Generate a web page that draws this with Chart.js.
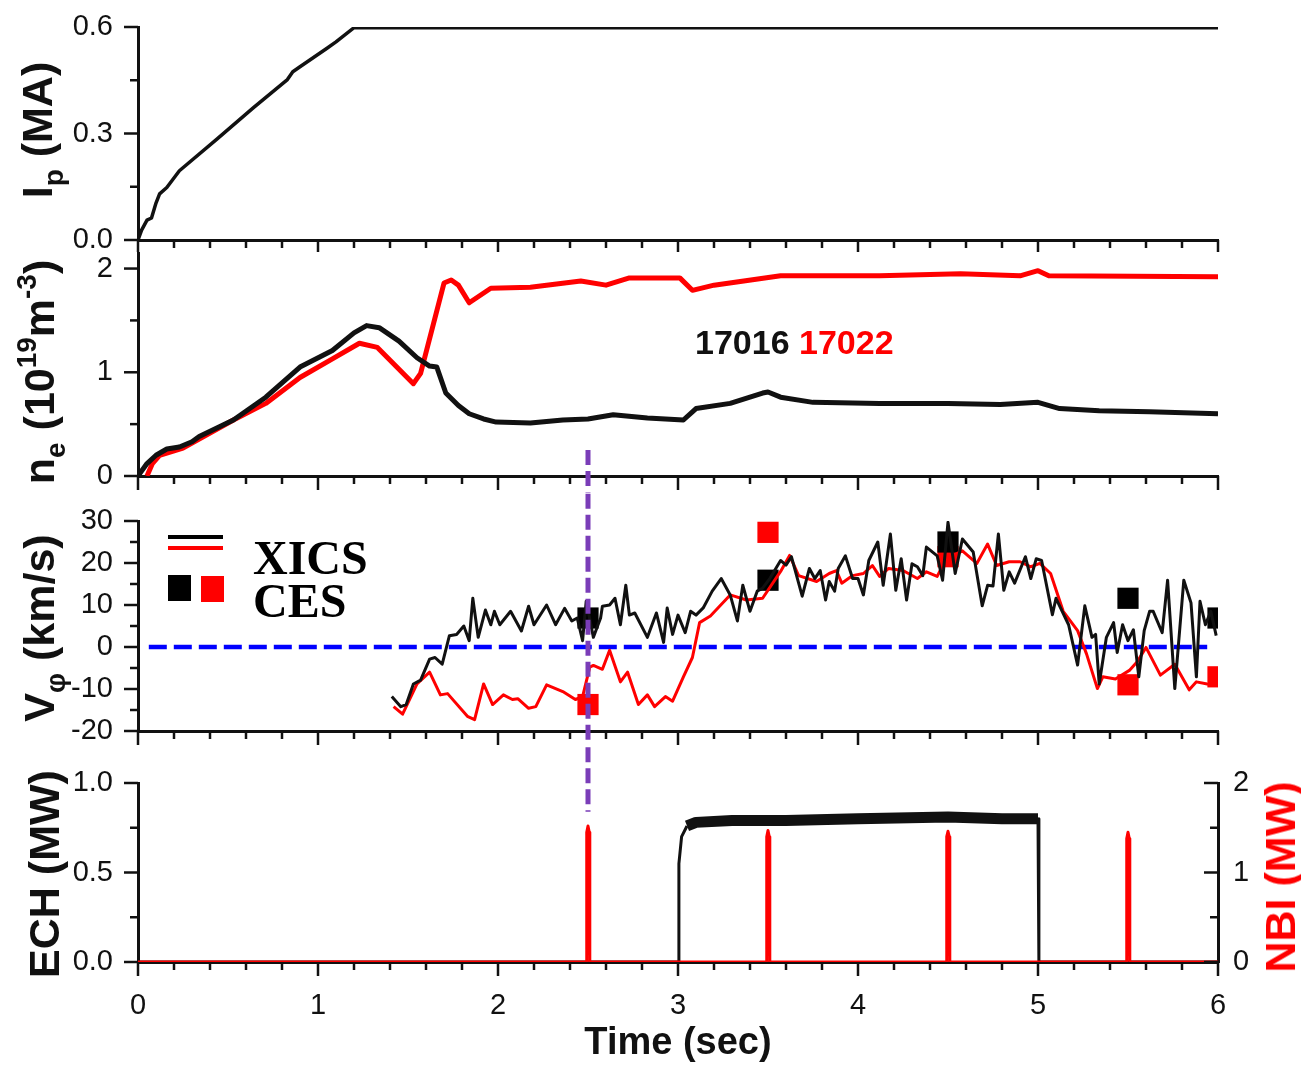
<!DOCTYPE html>
<html>
<head>
<meta charset="utf-8">
<script src="https://cdn.jsdelivr.net/npm/chart.js@4"></script>
<style>
  body { margin: 0; background: #fff; }
  #wrap { position: relative; width: 1301px; height: 1066px; background: #fff; overflow: hidden; }
  canvas { position: absolute; left: 0; }
  .ytitle { position: absolute; transform-origin: 0 0; transform: rotate(-90deg) translateX(-50%);
            white-space: nowrap; line-height: 1; font: bold 43px 'Liberation Sans', Arial, sans-serif; color: #111; }
  .sub { font-size: 0.65em; position: relative; top: 0.4em; }
  .sup { font-size: 0.65em; position: relative; top: -0.65em; }
  .txt { position: absolute; white-space: nowrap; line-height: 1; }
  .leg { position: absolute; }
</style>
</head>
<body>
<div id="wrap">
  <canvas id="c1" width="1301" height="252" style="top:0"></canvas>
  <canvas id="c2" width="1301" height="241" style="top:252px"></canvas>
  <canvas id="c3" width="1301" height="253" style="top:493px"></canvas>
  <canvas id="c4" width="1301" height="320" style="top:746px"></canvas>

  <div class="ytitle" style="left:13px;top:130px">I<span class="sub">p</span> (MA)</div>
  <div class="ytitle" style="left:15px;top:372px">n<span class="sub">e</span> (10<span class="sup">19</span>m<span class="sup">-3</span>)</div>
  <div class="ytitle" style="left:15px;top:628px">V<span class="sub">φ</span> (km/s)</div>
  <div class="ytitle" style="left:20px;top:874px">ECH (MW)</div>
  <div class="ytitle" style="left:1256px;top:877px;color:#f00">NBI (MW)</div>

  <div class="txt" style="left:695px;top:323px;font:bold 34px 'Liberation Sans', Arial, sans-serif">
    <span style="color:#111">17016</span> <span style="color:#f00">17022</span></div>

  <div class="leg" style="left:168px;top:535px;width:55px;height:4px;background:#000"></div>
  <div class="leg" style="left:168px;top:546px;width:55px;height:4px;background:#f00"></div>
  <div class="leg" style="left:168px;top:575px;width:23px;height:26px;background:#000"></div>
  <div class="leg" style="left:201px;top:576px;width:23px;height:26px;background:#f00"></div>
  <div class="txt" style="left:253px;top:530px;font:bold 48px 'Liberation Serif', 'Times New Roman', serif;color:#000">XICS</div>
  <div class="txt" style="left:253px;top:573px;font:bold 48px 'Liberation Serif', 'Times New Roman', serif;color:#000">CES</div>
</div>

<script>
// time axis
const xMajor = [0, 1, 2, 3, 4, 5, 6];
const xMinor = [];
for (let i = 1; i < 30; i++) if (i % 5) xMinor.push(i * 0.2);

// tick values of each y axis
const ipTicks = [0, 0.3, 0.6], ipMinor = [0.15, 0.45];
const neTicks = [0, 1, 2], neMinor = [0.5, 1.5];
const vTicks = [-20, -10, 0, 10, 20, 30], vMinor = [-15, -5, 5, 15, 25];
const echTicks = [0, 0.5, 1.0], echMinor = [0.25, 0.75];
const nbiTicks = [0, 1, 2], nbiMinor = [0.5, 1.5];

// plasma current [t, MA]
const ipPts = [[0, 0], [0.02, 0.028], [0.05, 0.056], [0.075, 0.062], [0.1, 0.104], [0.12, 0.13],
  [0.16, 0.148], [0.23, 0.195], [0.44, 0.285], [0.64, 0.372], [0.83, 0.452], [0.86, 0.474], [0.9, 0.488],
  [1.05, 0.54], [1.1, 0.558], [1.2, 0.598], [6.0, 0.598]];

// density [t, 1e19 m^-3]
const ne17016 = [[0, 0], [0.05, 0.12], [0.1, 0.2], [0.16, 0.26], [0.23, 0.28], [0.3, 0.33], [0.34, 0.38],
  [0.53, 0.54], [0.71, 0.76], [0.9, 1.05], [1.08, 1.21], [1.2, 1.38], [1.27, 1.45], [1.34, 1.43], [1.45, 1.3],
  [1.55, 1.14], [1.62, 1.06], [1.66, 1.05], [1.71, 0.8], [1.78, 0.68], [1.84, 0.6], [1.92, 0.55], [1.99, 0.52],
  [2.18, 0.51], [2.36, 0.54], [2.5, 0.55], [2.64, 0.59], [2.83, 0.56], [3.03, 0.54], [3.1, 0.65],
  [3.29, 0.7], [3.47, 0.8], [3.5, 0.81], [3.57, 0.76], [3.75, 0.71], [4.12, 0.7], [4.5, 0.7],
  [4.79, 0.69], [5.0, 0.71], [5.12, 0.65], [5.34, 0.63], [5.62, 0.62], [6.0, 0.6]];
const ne17022 = [[0.05, 0], [0.08, 0.12], [0.12, 0.2], [0.25, 0.27], [0.53, 0.54], [0.71, 0.7],
  [0.9, 0.95], [1.08, 1.13], [1.23, 1.28], [1.33, 1.24], [1.53, 0.89], [1.57, 0.99], [1.7, 1.86],
  [1.74, 1.89], [1.78, 1.84], [1.84, 1.67], [1.96, 1.81], [2.18, 1.82], [2.46, 1.88], [2.6, 1.84], [2.73, 1.91],
  [3.01, 1.91], [3.08, 1.79], [3.2, 1.84], [3.57, 1.93], [4.12, 1.93], [4.57, 1.95], [4.9, 1.93],
  [5.0, 1.98], [5.06, 1.93], [6.0, 1.92]];

// toroidal rotation from XICS [t, km/s]
const xics17016 = [[1.41, -11.8], [1.46, -14.2], [1.49, -13.7], [1.53, -8.8], [1.57, -7.9], [1.62, -2.9],
  [1.65, -2.5], [1.69, -4.1], [1.73, 2.7], [1.77, 3.0], [1.81, 5.0], [1.84, 1.5], [1.86, 11.6], [1.89, 2.3],
  [1.93, 8.8], [1.96, 5.3], [1.98, 8.5], [2.01, 5.3], [2.07, 8.5], [2.13, 3.8], [2.17, 9.7], [2.2, 5.3],
  [2.27, 10.0], [2.32, 5.3], [2.37, 9.2], [2.41, 6.2], [2.44, 6.9], [2.47, 1.5], [2.49, 10.9], [2.53, 2.3],
  [2.57, 6.9], [2.58, 9.7], [2.62, 10.0], [2.65, 11.6], [2.68, 5.3], [2.71, 14.7], [2.73, 7.6], [2.76, 8.1],
  [2.83, 2.3], [2.88, 8.1], [2.92, 1.1], [2.94, 9.3], [2.97, 3.0], [3.0, 7.6], [3.04, 3.4], [3.07, 8.5],
  [3.1, 7.6], [3.14, 9.3], [3.19, 13.3], [3.24, 16.3], [3.29, 12.4], [3.33, 6.2], [3.36, 14.7], [3.4, 8.5],
  [3.44, 13.3], [3.47, 14.0], [3.51, 16.3], [3.57, 20.6], [3.6, 19.5], [3.63, 21.5], [3.69, 12.1],
  [3.73, 18.7], [3.76, 16.3], [3.79, 18.2], [3.82, 11.2], [3.84, 15.6], [3.87, 13.3], [3.89, 18.7],
  [3.93, 21.7], [3.97, 16.3], [4.0, 16.3], [4.03, 12.4], [4.06, 20.6], [4.11, 25.0], [4.14, 14.7],
  [4.18, 26.9], [4.21, 13.5], [4.24, 21.0], [4.27, 11.2], [4.3, 19.8], [4.33, 19.1], [4.36, 17.0],
  [4.38, 23.8], [4.44, 21.7], [4.47, 15.9], [4.5, 29.7], [4.54, 17.5], [4.58, 25.7], [4.64, 22.6],
  [4.69, 9.8], [4.72, 14.7], [4.75, 14.5], [4.78, 26.9], [4.81, 13.5], [4.84, 17.9], [4.87, 15.2],
  [4.93, 21.5], [4.96, 16.3], [4.99, 21.0], [5.02, 20.6], [5.08, 7.7], [5.1, 11.6], [5.17, 5.3],
  [5.22, -4.3], [5.26, 9.8], [5.3, 2.3], [5.32, 3.0], [5.34, -8.8], [5.38, 2.3], [5.42, 5.8], [5.44, -1.3],
  [5.47, 5.3], [5.5, 1.5], [5.53, 4.1], [5.56, -7.1], [5.59, 3.9], [5.62, 8.5], [5.64, 8.5], [5.69, 3.4],
  [5.72, 15.9], [5.76, -9.9], [5.81, 15.9], [5.85, 10.5], [5.88, -7.1], [5.9, 10.9], [5.93, 5.3],
  [5.96, 8.5], [5.99, 2.7]];
const xics17022 = [[1.42, -14.2], [1.47, -16.0], [1.55, -8.8], [1.62, -6.0], [1.68, -11.4], [1.72, -11.1],
  [1.83, -16.5], [1.87, -17.3], [1.92, -8.8], [1.97, -13.7], [2.03, -11.4], [2.08, -12.5], [2.11, -12.3],
  [2.17, -14.6], [2.21, -14.2], [2.27, -9.0], [2.36, -10.6], [2.43, -12.5], [2.47, -11.8], [2.51, -4.8],
  [2.53, -4.4], [2.58, -5.3], [2.62, -0.8], [2.68, -8.3], [2.72, -6.0], [2.78, -13.7], [2.83, -11.4],
  [2.87, -14.2], [2.93, -11.8], [2.97, -12.9], [3.03, -7.1], [3.08, -2.5], [3.12, 5.8], [3.18, 7.4],
  [3.29, 12.4], [3.38, 11.2], [3.47, 11.6], [3.57, 18.0], [3.62, 21.8], [3.67, 17.0], [3.77, 15.6],
  [3.84, 17.5], [3.88, 18.2], [3.91, 15.2], [3.97, 17.0], [4.03, 17.5], [4.08, 19.4], [4.12, 16.8],
  [4.17, 18.7], [4.25, 18.2], [4.33, 16.3], [4.38, 17.9], [4.44, 16.8], [4.49, 21.0], [4.58, 22.9],
  [4.66, 19.9], [4.72, 24.5], [4.77, 19.4], [4.84, 20.3], [4.9, 20.3], [4.96, 19.1], [5.01, 19.9],
  [5.07, 17.5], [5.14, 8.5], [5.22, 3.9], [5.27, -1.7], [5.33, -9.9], [5.36, -7.1], [5.43, -7.6],
  [5.51, -5.5], [5.55, -3.6], [5.6, -0.1], [5.68, -6.7], [5.76, -4.1], [5.84, -10.2], [5.88, -8.3],
  [5.94, -8.8], [5.99, -9.0]];

// CES points [t, km/s]
const ces17016 = [[2.5, 6.9], [3.5, 15.9], [4.5, 25.0], [5.5, 11.6], [6.0, 6.9]];
const ces17022 = [[2.5, -13.7], [3.5, 27.3], [4.5, 21.5], [5.5, -9.0], [6.0, -7.1]];

// zero reference line in the rotation panel
const zeroLine = [[0.06, 0], [5.94, 0]];

// heating power [t, MW]
const echPts = [[0, 0], [3.0, 0], [3.005, 0.55], [3.02, 0.7], [3.05, 0.76], [3.1, 0.78], [3.3, 0.79],
  [3.6, 0.79], [4.0, 0.8], [4.5, 0.81], [4.8, 0.8], [4.995, 0.8], [5.0, 0.8], [5.005, 0], [6.0, 0]];
const nbiPts = [[0, 0], [2.49, 0], [2.493, 1.45], [2.5, 1.52], [2.507, 1.45], [2.51, 0],
  [3.49, 0], [3.493, 1.4], [3.5, 1.47], [3.507, 1.4], [3.51, 0],
  [4.49, 0], [4.493, 1.4], [4.5, 1.46], [4.507, 1.4], [4.51, 0],
  [5.49, 0], [5.493, 1.38], [5.5, 1.45], [5.507, 1.38], [5.51, 0], [6.0, 0]];

// purple marker at t = 2.5: starts at ne = 0.25, runs through the rotation panel, ends at ECH = 0.84
const markT = 2.5;
const markNe = [0.25, -0.16];
const markV = [36.5, -22.8];
const markEch = [1.2, 0.84];

Chart.defaults.font.family = "'Liberation Sans', Arial, sans-serif";
Chart.defaults.color = '#111';

const RED = '#f00';
const PURPLE = '#7a3db8';
const xy = pts => pts.map(p => ({x: p[0], y: p[1]}));

// major / minor tick marks (outward, right axis inward)
const tickMarks = {
  id: 'tickMarks',
  afterDraw(chart, args, opts) {
    const ctx = chart.ctx;
    ctx.save();
    ctx.strokeStyle = '#111';
    ctx.lineWidth = 2.5;
    for (const m of opts.marks || []) {
      const s = chart.scales[m.id];
      const draw = (vals, len) => vals.forEach(v => {
        const p = s.getPixelForValue(v);
        ctx.beginPath();
        if (s.isHorizontal()) { ctx.moveTo(p, s.top); ctx.lineTo(p, s.top + len); }
        else if (s.position === 'left') { ctx.moveTo(s.right, p); ctx.lineTo(s.right - len, p); }
        else { ctx.moveTo(s.left, p); ctx.lineTo(s.left - len, p); }
        ctx.stroke();
      });
      draw(m.major, 14);
      draw(m.minor, 8);
    }
    ctx.restore();
  }
};

function xScale(showLabels, height, title) {
  return {
    type: 'linear', min: 0, max: 6,
    afterBuildTicks: s => { s.ticks = xMajor.map(v => ({value: v})); },
    afterFit: s => { s.height = height; s.paddingLeft = 0; s.paddingRight = 0; },
    grid: {drawOnChartArea: false, drawTicks: false},
    border: {color: '#111', width: 3},
    ticks: {display: showLabels, padding: 27, font: {size: 29}, color: '#111', maxRotation: 0, autoSkip: false},
    title: title ? {display: true, text: title, font: {size: 38, weight: 'bold'}, color: '#111',
                    padding: {top: 0, bottom: 0}} : {display: false}
  };
}

function yScale(min, max, major, fmt, position, width, pad) {
  return {
    type: 'linear', position, min, max,
    afterBuildTicks: s => { s.ticks = major.map(v => ({value: v})); },
    afterFit: s => { s.width = width; s.paddingTop = 0; s.paddingBottom = 0; },
    grid: {drawOnChartArea: false, drawTicks: false},
    border: {color: '#111', width: 3},
    ticks: {padding: pad, font: {size: 29}, color: '#111', autoSkip: false, callback: v => fmt(v)}
  };
}

function lineSet(pts, color, width, extra) {
  return Object.assign({data: xy(pts), borderColor: color, borderWidth: width, pointRadius: 0,
    fill: false, tension: 0, borderJoinStyle: 'round'}, extra || {});
}

function panel(id, datasets, scales, padTop, padRight, marks) {
  return new Chart(document.getElementById(id), {
    type: 'line',
    data: {datasets},
    options: {
      responsive: false, animation: false, devicePixelRatio: 1,
      layout: {padding: {left: 0, right: padRight, top: padTop, bottom: 0}},
      scales,
      plugins: {legend: {display: false}, tooltip: {enabled: false}, tickMarks: {marks}}
    },
    plugins: [tickMarks]
  });
}

const dashed = {borderDash: [15, 6], borderJoinStyle: 'miter', borderCapStyle: 'butt', clip: false};
const markLine = ends => lineSet(ends.map(v => [markT, v]), PURPLE, 5, dashed);
const square = color => ({showLine: false, pointStyle: 'rect', pointRadius: 15,
  pointBackgroundColor: color, pointBorderWidth: 0, clip: 0});

// panel 1: plasma current
panel('c1', [lineSet(ipPts, '#111', 3.5)], {
  x: xScale(false, 12),
  y: yScale(0, 0.6, ipTicks, v => v.toFixed(1), 'left', 138, 25)
}, 27, 83, [{id: 'x', major: xMajor, minor: xMinor}, {id: 'y', major: ipTicks, minor: ipMinor}]);

// panel 2: density
panel('c2', [
  markLine(markNe),
  lineSet(ne17016, '#111', 5),
  lineSet(ne17022, RED, 5)
], {
  x: xScale(false, 17),
  y: yScale(0, 2.15, neTicks, v => String(v), 'left', 138, 25)
}, 1, 83, [{id: 'x', major: xMajor, minor: xMinor}, {id: 'y', major: neTicks, minor: neMinor}]);

// panel 3: rotation
panel('c3', [
  markLine(markV),
  lineSet(xics17016, '#111', 3),
  lineSet(xics17022, RED, 3),
  lineSet(zeroLine, '#0000ff', 4.5, {borderDash: [18, 7]}),
  lineSet(ces17016, '#000', 0, square('#000')),
  lineSet(ces17022, RED, 0, square(RED))
], {
  x: xScale(false, 12),
  y: yScale(-20, 30, vTicks, v => String(v), 'left', 138, 25)
}, 28, 83, [{id: 'x', major: xMajor, minor: xMinor}, {id: 'y', major: vTicks, minor: vMinor}]);

// panel 4: ECH and NBI power
panel('c4', [
  markLine(markEch),
  lineSet(nbiPts, RED, 3, {yAxisID: 'y1'}),
  lineSet(echPts, '#111', 3, {segment: {borderWidth: c => (c.p0.parsed.y > 0.7 && c.p1.parsed.y > 0.7) ? 11 : 3}})
], {
  x: xScale(true, 104, 'Time (sec)'),
  y: yScale(0, 1.0, echTicks, v => v.toFixed(1), 'left', 138, 25),
  y1: yScale(0, 2, nbiTicks, v => String(v), 'right', 83, 15)
}, 37, 0, [{id: 'x', major: xMajor, minor: xMinor}, {id: 'y', major: echTicks, minor: echMinor},
           {id: 'y1', major: nbiTicks, minor: nbiMinor}]);
</script>
</body>
</html>
